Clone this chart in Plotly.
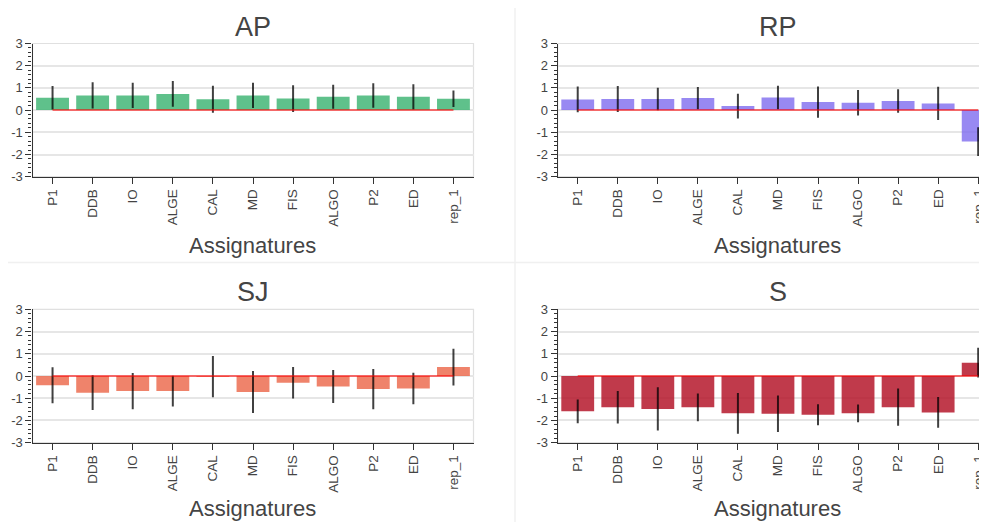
import plotly.graph_objects as go

categories = ["P1", "DDB", "IO", "ALGE", "CAL", "MD", "FIS", "ALGO", "P2", "ED", "rep_1"]

ap_vals = [0.56, 0.66, 0.66, 0.73, 0.49, 0.66, 0.52, 0.60, 0.66, 0.60, 0.51]
ap_err = [0.53, 0.59, 0.57, 0.58, 0.61, 0.57, 0.60, 0.54, 0.55, 0.57, 0.37]

rp_vals = [0.48, 0.50, 0.50, 0.54, 0.18, 0.57, 0.36, 0.33, 0.41, 0.30, -1.42]
rp_err = [0.58, 0.58, 0.51, 0.50, 0.56, 0.53, 0.70, 0.57, 0.53, 0.75, 0.65]

sj_vals = [-0.42, -0.75, -0.68, -0.68, -0.03, -0.72, -0.30, -0.47, -0.59, -0.56, 0.40]
sj_err = [0.81, 0.78, 0.82, 0.69, 0.93, 0.94, 0.71, 0.74, 0.90, 0.71, 0.83]

s_vals = [-1.59, -1.41, -1.48, -1.41, -1.68, -1.70, -1.74, -1.68, -1.40, -1.64, 0.60]
s_err = [0.53, 0.73, 0.97, 0.62, 0.92, 0.82, 0.47, 0.40, 0.84, 0.69, 0.67]

titles = ["AP", "RP", "SJ", "S"]
x_title = "Assignatures"
y_ticks = [-3, -2, -1, 0, 1, 2, 3]
y_tick_text = ["-3", "-2", "-1", "0", "1", "2", "3"]

# page body has an 8px margin; lay out in window pixels
OFF = 8
W, H = 987 - OFF, 522 - OFF


def px(p):
    return (p - OFF) / W


def py(p):
    return 1 - (p - OFF) / H


panels = [
    (ap_vals, ap_err, "rgba(60,179,113,0.82)", (32.5, 473.5), (43.5, 176.7), 10.5),
    (rp_vals, rp_err, "rgba(123,104,238,0.78)", (557.7, 987), (43.5, 176.7), 10.22),
    (sj_vals, sj_err, "rgba(235,100,70,0.80)", (32.5, 473.5), (309.3, 442.7), 10.5),
    (s_vals, s_err, "rgba(180,20,40,0.84)", (557.7, 987), (309.3, 442.7), 10.22),
]

fig = go.Figure()
font_family = "Liberation Sans, Arial, sans-serif"
text_col = "#444444"

annotations = []
shapes = []

for i, (vals, errs, col, (x0, x1), (y0, y1), xmax) in enumerate(panels):
    n = i + 1
    xa = "x" if n == 1 else f"x{n}"
    ya = "y" if n == 1 else f"y{n}"
    fig.add_trace(go.Bar(
        x=categories, y=vals, xaxis=xa, yaxis=ya,
        marker=dict(color=col, line=dict(width=0)),
        width=0.82,
        error_y=dict(type="data", array=errs, visible=True, width=0,
                     thickness=2, color="rgba(0,0,0,0.75)"),
        showlegend=False,
    ))
    fig.add_trace(go.Scatter(
        x=[categories[0], categories[-1]], y=[0, 0], xaxis=xa, yaxis=ya,
        mode="lines", line=dict(color="rgba(255,0,0,0.55)", width=2),
        showlegend=False, hoverinfo="skip",
    ))
    xkey = "xaxis" if n == 1 else f"xaxis{n}"
    ykey = "yaxis" if n == 1 else f"yaxis{n}"
    fig.update_layout(**{
        xkey: dict(
            domain=[px(x0), min(px(x1), 1.0)], anchor=ya, automargin=False,
            type="category", range=[-0.5, xmax],
            showline=True, linecolor="#333333", linewidth=1.2,
            ticks="outside", ticklen=6, tickcolor="#333333", tickwidth=1.2,
            tickangle=-90, showgrid=False, zeroline=False,
            ticklabeloverflow="allow",
            tickfont=dict(size=13.5, color=text_col, family=font_family),
        ),
        ykey: dict(
            domain=[py(y1), py(y0)], anchor=xa, automargin=False,
            range=[-3, 3], tickvals=y_ticks, ticktext=y_tick_text,
            showline=True, linecolor="#333333", linewidth=1.2,
            ticks="outside", ticklen=6, tickcolor="#333333", tickwidth=1.2,
            minor=dict(dtick=0.2, ticks="outside", ticklen=3, tickcolor="#333333",
                       showgrid=False),
            showgrid=True, gridcolor="#e6e6e6", gridwidth=1.5, zeroline=False,
            ticklabeloverflow="allow",
            tickfont=dict(size=13, color=text_col, family=font_family),
        ),
    })
    # light frame on top/right
    shapes.append(dict(type="rect", xref=f"{xa} domain", yref=f"{ya} domain",
                       x0=0, x1=1, y0=0, y1=1,
                       line=dict(color="#e0e0e0", width=1.2), layer="below"))
    cx = (x0 + (x0 + 440.5)) / 2
    ty = 26.7 if y0 < 200 else 291.7
    annotations.append(dict(text=titles[i], x=px(cx), y=py(ty), xref="paper", yref="paper",
                            xanchor="center", yanchor="middle", showarrow=False,
                            font=dict(size=27, color=text_col, family=font_family)))
    aty = 245 if y0 < 200 else 508
    annotations.append(dict(text=x_title, x=px(cx), y=py(aty), xref="paper", yref="paper",
                            xanchor="center", yanchor="middle", showarrow=False,
                            font=dict(size=22, color=text_col, family=font_family)))

# separators between panels
shapes.append(dict(type="line", xref="paper", yref="paper", x0=px(515), x1=px(515),
                   y0=0, y1=1, line=dict(color="#f0f0f0", width=1.5)))
shapes.append(dict(type="line", xref="paper", yref="paper", x0=0, x1=1,
                   y0=py(262.5), y1=py(262.5), line=dict(color="#f0f0f0", width=1.5)))

fig.update_layout(
    width=W, height=H, margin=dict(l=0, r=0, t=0, b=0, autoexpand=False),
    paper_bgcolor="white", plot_bgcolor="white",
    annotations=annotations, shapes=shapes, bargap=0.18,
    font=dict(family=font_family, color=text_col),
)

fig.write_html("out.html")
